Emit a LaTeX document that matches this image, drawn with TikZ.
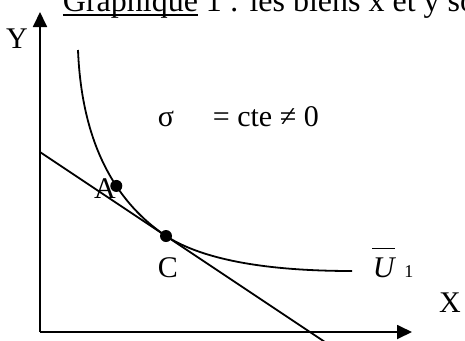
\documentclass[tikz,border=0pt]{standalone}
\usepackage{fontspec}
\setmainfont{Liberation Serif}
\usepackage{tikz}
\usetikzlibrary{arrows.meta, positioning, calc}
\newcommand{\souligne}[1]{\setbox0=\hbox{#1}\rlap{\vrule height -2pt depth 3.6pt width \wd0}\box0\relax}

\begin{document}
\begin{tikzpicture}[x=1pt, y=-1pt, line width=1.8pt,
        every node/.style={font=\fontsize{30}{34}\selectfont, inner sep=0pt},
        axe/.style={-{Triangle[length=15pt, width=14pt]}},
        point/.style={circle, fill=black, minimum size=12pt, inner sep=0pt}]
    \useasboundingbox (0,0) rectangle (465,340);
    \clip (0,0) rectangle (465,340);
    % Titre
    \node[anchor=base west, font=\fontsize{32}{36}\selectfont] (titre) at (62,12)
        {\souligne{Graphique} 1 : les biens x et y so};
    % Axes
    \coordinate (O) at (40,332);
    \coordinate (Ymax) at (40,12);
    \coordinate (Xmax) at (412,332);
    \draw[axe] (O) -- (Ymax);
    \draw[axe] (O) -- (Xmax);
    \node[anchor=base] (Y) at (17,48) {Y};
    \node[anchor=base] (X) at (450,312) {X};
    % Courbe d'indifference
    \draw (78,50) .. controls (82,150) and (120,205) .. node[point, pos=0.6] (A) {}
          (166,236) node[point] (C) {} .. controls (200,258) and (260,271) .. (352,271);
    % Droite de budget
    \coordinate (B) at (40,152);
    \draw (B) -- ($(B)!2.5!(C)$);
    % Etiquettes
    \node[anchor=base] (lA) at (105,198) {A};
    \node[anchor=base] (lC) at (168,277) {C};
    \node[anchor=base] (sigma) at (166,126) {σ};
    \node[anchor=base west] (cte) at (212,126) {= cte ≠ 0};
    \node[anchor=base west, font=\fontsize{30}{34}\selectfont\itshape] (U) at (372,277) {U};
    \draw[line width=1.5pt] ([yshift=8pt]U.north west) -- ([yshift=8pt]U.north east);
    \node[right=8pt of U.base east, anchor=base west, font=\fontsize{18}{20}\selectfont] (un) {1};
\end{tikzpicture}
\end{document}
